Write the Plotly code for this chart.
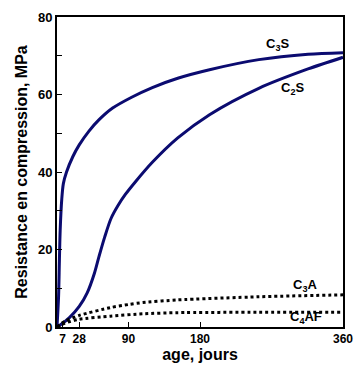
import plotly.graph_objects as go

c3s_days = [0, 2, 3, 4, 6, 8, 12, 20, 28, 40, 53, 70, 94, 120, 152, 192, 254, 316, 360]
c3s_vals = [0, 8, 17, 25, 33, 37, 40, 44, 47, 50.5, 53.5, 56.5, 59.3, 61.8, 64.2, 66.4, 69, 70.4, 70.8]

c2s_days = [0, 4, 16, 28, 38, 47, 53, 60, 68, 77, 86, 98, 120, 152, 192, 254, 316, 360]
c2s_vals = [0, 0.5, 2.5, 5.3, 8.8, 13.8, 18.3, 23.2, 28.0, 31.4, 34.2, 37.3, 42.5, 48.8, 54.8, 61.6, 66.6, 69.6]

c3a_days = [0, 10, 28, 67, 90, 108, 152, 254, 360]
c3a_vals = [0, 1.5, 3, 5, 5.8, 6.3, 7, 7.8, 8.3]

c4af_days = [0, 10, 28, 67, 108, 152, 254, 360]
c4af_vals = [0, 1, 2, 2.8, 3.4, 3.7, 3.8, 3.8]

x_ticks = [7, 28, 90, 180, 360]
y_ticks = [0, 20, 40, 60, 80]

labels = ["C<sub>3</sub>S", "C<sub>2</sub>S", "C<sub>3</sub>A", "C<sub>4</sub>AF"]
label_x = [278, 296, 312, 314]
label_y = [73, 61.6, 10.8, 2.5]

navy = "#0b0b70"
font = "Liberation Sans, Arial, sans-serif"

fig = go.Figure()
fig.add_trace(go.Scatter(x=c3s_days, y=c3s_vals, mode="lines",
                         line=dict(color=navy, width=3, shape="spline", smoothing=0.8)))
fig.add_trace(go.Scatter(x=c2s_days, y=c2s_vals, mode="lines",
                         line=dict(color=navy, width=3, shape="spline", smoothing=0.8)))
fig.add_trace(go.Scatter(x=c3a_days, y=c3a_vals, mode="lines",
                         line=dict(color="black", width=3, dash="dot", shape="spline", smoothing=0.6)))
fig.add_trace(go.Scatter(x=c4af_days, y=c4af_vals, mode="lines",
                         line=dict(color="black", width=3, dash="dot", shape="spline", smoothing=0.6)))

for t, lx, ly in zip(labels, label_x, label_y):
    fig.add_annotation(x=lx, y=ly, text=t, showarrow=False,
                       font=dict(family=font, size=13, color="black", weight="bold"))

fig.update_layout(
    width=363, height=368,
    margin=dict(l=57, r=14, t=10, b=40),
    paper_bgcolor="white", plot_bgcolor="white",
    showlegend=False,
    font=dict(family=font, color="black"),
)
fig.update_xaxes(
    range=[0, 360], tickvals=x_ticks, ticktext=[str(v) for v in x_ticks],
    ticks="inside", ticklen=5, tickwidth=1, tickcolor="black",
    showline=True, linecolor="black", linewidth=2, mirror=True,
    showgrid=False, zeroline=False,
    tickfont=dict(family=font, size=12, weight="bold"),
    title=dict(text="age, jours", font=dict(family=font, size=16, weight="bold"), standoff=0),
)
fig.update_yaxes(
    range=[0, 80], tickvals=y_ticks, ticktext=[str(v) for v in y_ticks],
    ticks="inside", ticklen=5, tickwidth=1, tickcolor="black",
    minor=dict(tickvals=[10, 30, 50, 70], ticks="inside", ticklen=5, tickcolor="black", tickwidth=1),
    showline=True, linecolor="black", linewidth=2, mirror=True,
    showgrid=False, zeroline=False,
    tickfont=dict(family=font, size=13, weight="bold"),
    title=dict(text="Resistance en compression, MPa", font=dict(family=font, size=16, weight="bold"), standoff=6),
)

fig.write_html("out.html")
